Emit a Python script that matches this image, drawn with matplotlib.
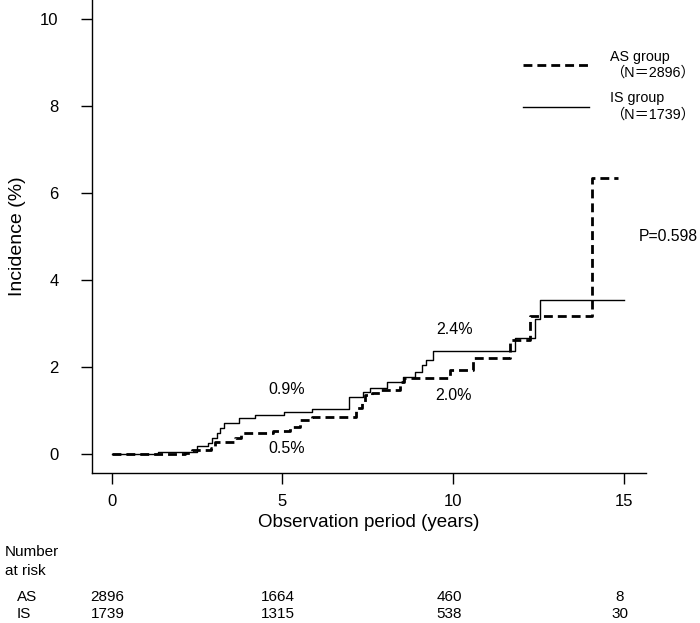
import matplotlib
matplotlib.use('Agg')
import matplotlib.pyplot as plt
from matplotlib.lines import Line2D

# cumulative incidence (%), step "post"
as_times = [0, 2.15, 2.34, 2.90, 3.02, 3.61, 3.80, 4.73, 5.22, 5.51, 5.86, 7.17, 7.32,
            7.42, 7.61, 7.86, 8.44, 8.56, 9.91, 10.59, 11.68, 12.25, 14.08, 14.83]
as_values = [0, 0.04, 0.10, 0.14, 0.28, 0.38, 0.48, 0.53, 0.63, 0.78, 0.87, 1.06, 1.21,
             1.36, 1.40, 1.48, 1.67, 1.75, 1.94, 2.21, 2.63, 3.19, 6.34, 6.34]

is_times = [0, 1.35, 2.49, 2.82, 2.95, 3.08, 3.18, 3.29, 3.74, 4.20, 5.05, 5.86, 6.95,
            7.37, 7.58, 8.07, 8.54, 8.88, 9.08, 9.22, 9.42, 11.81, 12.40, 12.54, 15.0]
is_values = [0, 0.05, 0.19, 0.26, 0.38, 0.50, 0.60, 0.71, 0.83, 0.90, 0.97, 1.04, 1.33,
             1.44, 1.52, 1.67, 1.77, 1.90, 2.05, 2.18, 2.37, 2.68, 3.10, 3.55, 3.55]

risk_times = [0, 5, 10, 15]
risk_as = [2896, 1664, 460, 8]
risk_is = [1739, 1315, 538, 30]

# (x, y, text) for the percentages written next to the curves
point_labels = [(5.12, 1.48, '0.9%'), (5.12, 0.14, '0.5%'),
                (10.05, 2.86, '2.4%'), (10.02, 1.35, '2.0%')]
p_text = 'P=0.598'

FONT = ['Liberation Sans', 'Noto Sans CJK JP', 'DejaVu Sans']
NARROW = ['Liberation Sans Narrow', 'Liberation Sans', 'DejaVu Sans']
plt.rcParams['font.family'] = FONT

fig = plt.figure(figsize=(7.0, 6.23), dpi=100)
ax = fig.add_axes([0.1314, 0.2413, 0.791, 0.7587])

ax.step(as_times, as_values, where='post', color='black', linewidth=2.0,
        dashes=(3.2, 1.8))
ax.step(is_times, is_values, where='post', color='black', linewidth=1.0)

ax.set_xlim(-0.577, 15.64)
ax.set_ylim(-0.42, 10.44)
ax.set_xticks([0, 5, 10, 15])
ax.set_yticks([0, 2, 4, 6, 8, 10])
ax.tick_params(direction='out', length=8, width=1, labelsize=12)
ax.tick_params(axis='x', pad=7)
ax.tick_params(axis='y', pad=16)
for s in ['top', 'right']:
    ax.spines[s].set_visible(False)
for s in ['left', 'bottom']:
    ax.spines[s].set_linewidth(1.0)

ax.set_xlabel('Observation period (years)', fontsize=13.5, labelpad=4)
ax.set_ylabel('Incidence (%)', fontsize=14, labelpad=10)

for x, y, t in point_labels:
    ax.text(x, y, t, ha='center', va='center', fontsize=11.5)
ax.text(15.45, 5.0, p_text, ha='left', va='center', fontsize=11.3, clip_on=False)

handles = [Line2D([], [], color='black', linewidth=2.0, dashes=(3.2, 1.8)),
           Line2D([], [], color='black', linewidth=1.0)]
labels = ['AS group\n（N＝2896）', 'IS group\n（N＝1739）']
ax.legend(handles, labels, loc='upper left', bbox_to_anchor=(0.778, 0.895),
          frameon=False, fontsize=10.3, handlelength=4.6, handletextpad=1.5,
          borderaxespad=0, borderpad=0, labelspacing=0.8)

# number at risk table
fig.text(0.007, 0.114, 'Number', fontsize=11, family=NARROW, va='center')
fig.text(0.007, 0.083, 'at risk', fontsize=11, family=NARROW, va='center')
fig.text(0.024, 0.0417, 'AS', fontsize=11, family=NARROW, va='center')
fig.text(0.024, 0.0144, 'IS', fontsize=11, family=NARROW, va='center')
for t, a, i in zip(risk_times, risk_as, risk_is):
    xf = fig.transFigure.inverted().transform(ax.transData.transform((t, 0)))[0]
    fig.text(xf - 0.006, 0.0417, str(a), ha='center', va='center', fontsize=11, family=NARROW)
    fig.text(xf - 0.006, 0.0144, str(i), ha='center', va='center', fontsize=11, family=NARROW)

fig.savefig('out.png', dpi=100)
